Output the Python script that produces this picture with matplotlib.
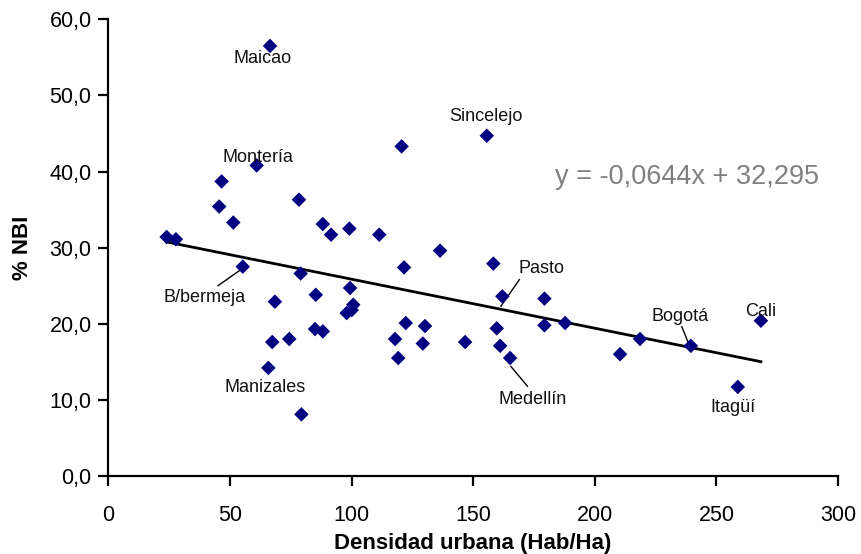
import matplotlib
matplotlib.use('Agg')
import matplotlib.pyplot as plt
import numpy as np

plt.rcParams['font.family'] = ['Liberation Sans', 'DejaVu Sans']

# densidad urbana (Hab/Ha) y % NBI
densidad = [66.5, 61.0, 46.6, 45.6, 51.4, 78.4, 88.2, 91.6, 99.1, 111.4,
            120.6, 155.6, 136.4, 121.6, 158.3, 24.0, 27.8, 55.3, 79.1, 85.3,
            99.4, 68.5, 100.7, 100.1, 98.0, 85.0, 88.2, 67.4, 74.4, 65.8,
            79.4, 122.3, 130.2, 117.9, 129.3, 119.2, 146.7, 162.0, 179.3, 159.7,
            161.1, 165.2, 179.3, 187.8, 210.4, 218.6, 239.5, 268.3, 258.8]
nbi = [56.5, 40.8, 38.7, 35.4, 33.3, 36.3, 33.1, 31.7, 32.5, 31.7,
       43.3, 44.7, 29.6, 27.4, 27.9, 31.4, 31.1, 27.5, 26.6, 23.8,
       24.7, 22.9, 22.5, 21.8, 21.4, 19.3, 19.0, 17.6, 18.0, 14.2,
       8.1, 20.1, 19.7, 18.0, 17.4, 15.5, 17.6, 23.6, 23.3, 19.4,
       17.1, 15.5, 19.8, 20.1, 16.0, 18.0, 17.1, 20.4, 11.7]

# tendencia lineal
pendiente = -0.0644
intercepto = 32.295

# etiquetas de ciudades y sus líneas guía
ciudades = ['Maicao', 'Montería', 'Sincelejo', 'B/bermeja', 'Manizales',
            'Pasto', 'Medellín', 'Bogotá', 'Cali', 'Itagüí']
texto_x = [63.6, 61.6, 155.3, 39.4, 64.4, 178.2, 174.3, 235.1, 268.3, 257.0]
texto_y = [54.8, 41.9, 47.2, 23.4, 11.6, 27.3, 10.1, 20.9, 21.6, 9.0]
linea_ini = [None, None, None, (45.1, 25.0), None,
             (169.0, 25.8), (165.5, 14.4), (235.8, 19.6), None, None]
linea_fin = [None, None, None, (54.9, 27.2), None,
             (161.4, 22.3), (172.3, 11.8), (239.2, 16.9), None, None]


def main():
    fig = plt.figure(figsize=(8.62, 5.54), dpi=100)
    ax = fig.add_axes([0.1256, 0.1408, 0.8466, 0.8244])

    ax.scatter(densidad, nbi, marker='D', s=55, color='#000080',
               edgecolors='none', zorder=3)

    xs = np.array([min(densidad), max(densidad)])
    ax.plot(xs, pendiente * xs + intercepto, color='black', lw=2, zorder=2)

    for i in range(len(ciudades)):
        ax.text(texto_x[i], texto_y[i], ciudades[i], fontsize=13,
                ha='center', va='center', color='#111111', zorder=4)
        if linea_ini[i] is not None:
            ax.plot([linea_ini[i][0], linea_fin[i][0]],
                    [linea_ini[i][1], linea_fin[i][1]],
                    color='black', lw=1, zorder=2)

    ax.text(237.8, 39.3, 'y = -0,0644x + 32,295', fontsize=19.5,
            color='#808080', ha='center', va='center')

    ax.set_xlim(0, 300)
    ax.set_ylim(0, 60)
    ax.set_xticks(range(0, 301, 50))
    ax.set_yticks(range(0, 61, 10))
    ax.set_yticklabels([f'{v},0' for v in range(0, 61, 10)])
    ax.tick_params(labelsize=15.5, length=7, width=1.6, direction='out',
                   colors='black')
    ax.tick_params(axis='x', pad=14)
    ax.tick_params(axis='y', pad=5)
    for side in ['top', 'right']:
        ax.spines[side].set_visible(False)
    for side in ['left', 'bottom']:
        ax.spines[side].set_linewidth(1.6)

    ax.set_xlabel('Densidad urbana (Hab/Ha)', fontsize=16, fontweight='bold',
                  labelpad=5)
    ax.set_ylabel('% NBI', fontsize=16, fontweight='bold', labelpad=12)

    fig.savefig('out.png', dpi=100)


if __name__ == '__main__':
    main()
